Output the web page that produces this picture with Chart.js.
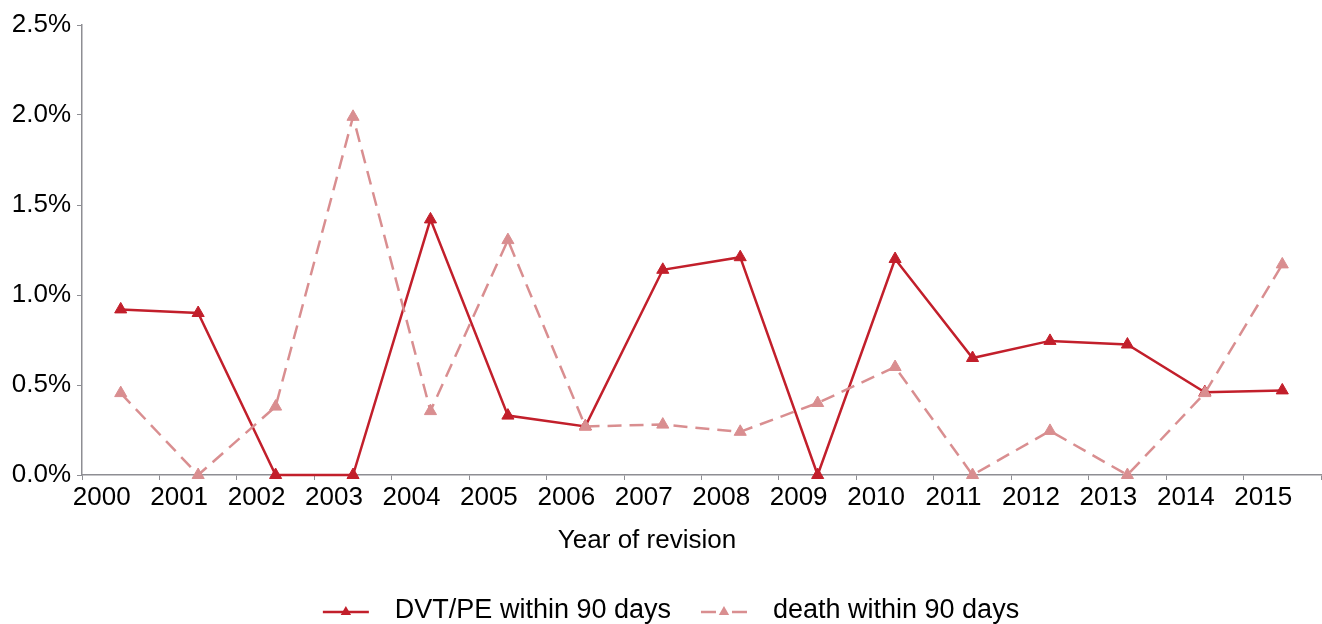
<!DOCTYPE html>
<html>
<head>
<meta charset="utf-8">
<script src="https://cdn.jsdelivr.net/npm/chart.js@4.4.1/dist/chart.umd.min.js"></script>
<style>
  html, body { margin: 0; padding: 0; background: #fff; }
  #wrap { width: 1322px; height: 624px; }
</style>
</head>
<body>
<div id="wrap"><canvas id="myChart" width="1322" height="624"></canvas></div>
<script>
let years = ['2000', '2001', '2002', '2003', '2004', '2005', '2006', '2007',
  '2008', '2009', '2010', '2011', '2012', '2013', '2014', '2015'];
// percent values
let dvtPe = [0.92, 0.90, 0, 0, 1.42, 0.33, 0.27, 1.14, 1.21, 0, 1.20, 0.65, 0.745, 0.725, 0.46, 0.47];
let death = [0.455, 0, 0.38, 1.99, 0.355, 1.305, 0.27, 0.28, 0.24, 0.40, 0.60, 0, 0.245, 0, 0.455, 1.17];
let seriesNames = ['DVT/PE within 90 days', 'death within 90 days'];
let xTitle = 'Year of revision';
let colorHex = ['#c21f2b', '#d98e90'];

let fontFamily = "'Helvetica Neue', 'Liberation Sans', Arial, sans-serif";
let axisGrey = '#8e8e93';

// x title and legend (line with triangle) drawn by hand, like the original figure
const lineLegend = {
  id: 'lineLegend',
  afterDraw(chart) {
    const ctx = chart.ctx;
    ctx.save();
    ctx.fillStyle = '#000';
    ctx.textAlign = 'center';
    ctx.textBaseline = 'middle';
    ctx.font = '26px ' + fontFamily;
    ctx.fillText(xTitle, 647, 541);

    const y = 612;
    const lineLen = 46, gapText = 26, gapItem = 30;
    ctx.font = '27px ' + fontFamily;
    const items = chart.data.datasets.map(ds => ({
      ds: ds,
      w: lineLen + gapText + ctx.measureText(ds.label).width
    }));
    const total = items.reduce((s, it) => s + it.w, 0) + gapItem * (items.length - 1);
    let x = 671 - total / 2;
    items.forEach(it => {
      const ds = it.ds;
      ctx.strokeStyle = ds.borderColor;
      ctx.lineWidth = ds.borderWidth;
      ctx.setLineDash(ds.borderDash ? [15, 16] : []);
      ctx.beginPath();
      ctx.moveTo(x, y);
      ctx.lineTo(x + lineLen, y);
      ctx.stroke();
      ctx.setLineDash([]);
      const cx = x + lineLen / 2, r = 6;
      ctx.fillStyle = ds.borderColor;
      ctx.beginPath();
      ctx.moveTo(cx, y - r);
      ctx.lineTo(cx + r * 0.866, y + r / 2);
      ctx.lineTo(cx - r * 0.866, y + r / 2);
      ctx.closePath();
      ctx.fill();
      ctx.fillStyle = '#000';
      ctx.textAlign = 'left';
      ctx.fillText(ds.label, x + lineLen + gapText, y - 1);
      x += it.w + gapItem;
    });
    ctx.restore();
  }
};

let ctx = document.getElementById('myChart').getContext('2d');

let myChart = new Chart(ctx, {
  type: 'line',
  data: {
    labels: years,
    datasets: [{
      label: seriesNames[0],
      data: dvtPe,
      borderColor: colorHex[0],
      backgroundColor: colorHex[0],
      borderWidth: 2.5,
      pointStyle: 'triangle',
      pointRadius: 7,
      pointBorderWidth: 1,
      pointBackgroundColor: colorHex[0],
      pointBorderColor: colorHex[0],
      tension: 0,
      fill: false,
      clip: false,
      order: 1
    }, {
      label: seriesNames[1],
      data: death,
      borderColor: colorHex[1],
      backgroundColor: colorHex[1],
      borderWidth: 2.5,
      borderDash: [14, 8],
      pointStyle: 'triangle',
      pointRadius: 7,
      pointBorderWidth: 1,
      pointBackgroundColor: colorHex[1],
      pointBorderColor: colorHex[1],
      tension: 0,
      fill: false,
      clip: false,
      order: 0
    }]
  },
  options: {
    responsive: false,
    animation: false,
    layout: {
      autoPadding: false,
      padding: { top: 25, right: 1, bottom: 68, left: 0 }
    },
    plugins: {
      legend: { display: false },
      tooltip: { enabled: false }
    },
    scales: {
      x: {
        type: 'category',
        offset: true,
        grid: {
          offset: true,
          drawOnChartArea: false,
          tickLength: 5,
          color: axisGrey
        },
        border: { color: axisGrey, width: 1.5 },
        ticks: {
          color: '#000',
          font: { family: fontFamily, size: 26 },
          labelOffset: -19,
          padding: 2,
          maxRotation: 0,
          autoSkip: false
        },
        afterFit: (scale) => {
          scale.height = 81;
          scale.paddingLeft = 0;
          scale.paddingRight = 0;
        }
      },
      y: {
        min: 0,
        max: 2.5,
        grid: {
          drawOnChartArea: false,
          tickLength: 5,
          color: axisGrey
        },
        border: { color: axisGrey, width: 1.5 },
        ticks: {
          stepSize: 0.5,
          color: '#000',
          padding: 6,
          font: { family: fontFamily, size: 26 },
          callback: (value) => value.toFixed(1) + '%'
        },
        afterFit: (scale) => { scale.width = 82; }
      }
    }
  },
  plugins: [lineLegend]
});
</script>
</body>
</html>
